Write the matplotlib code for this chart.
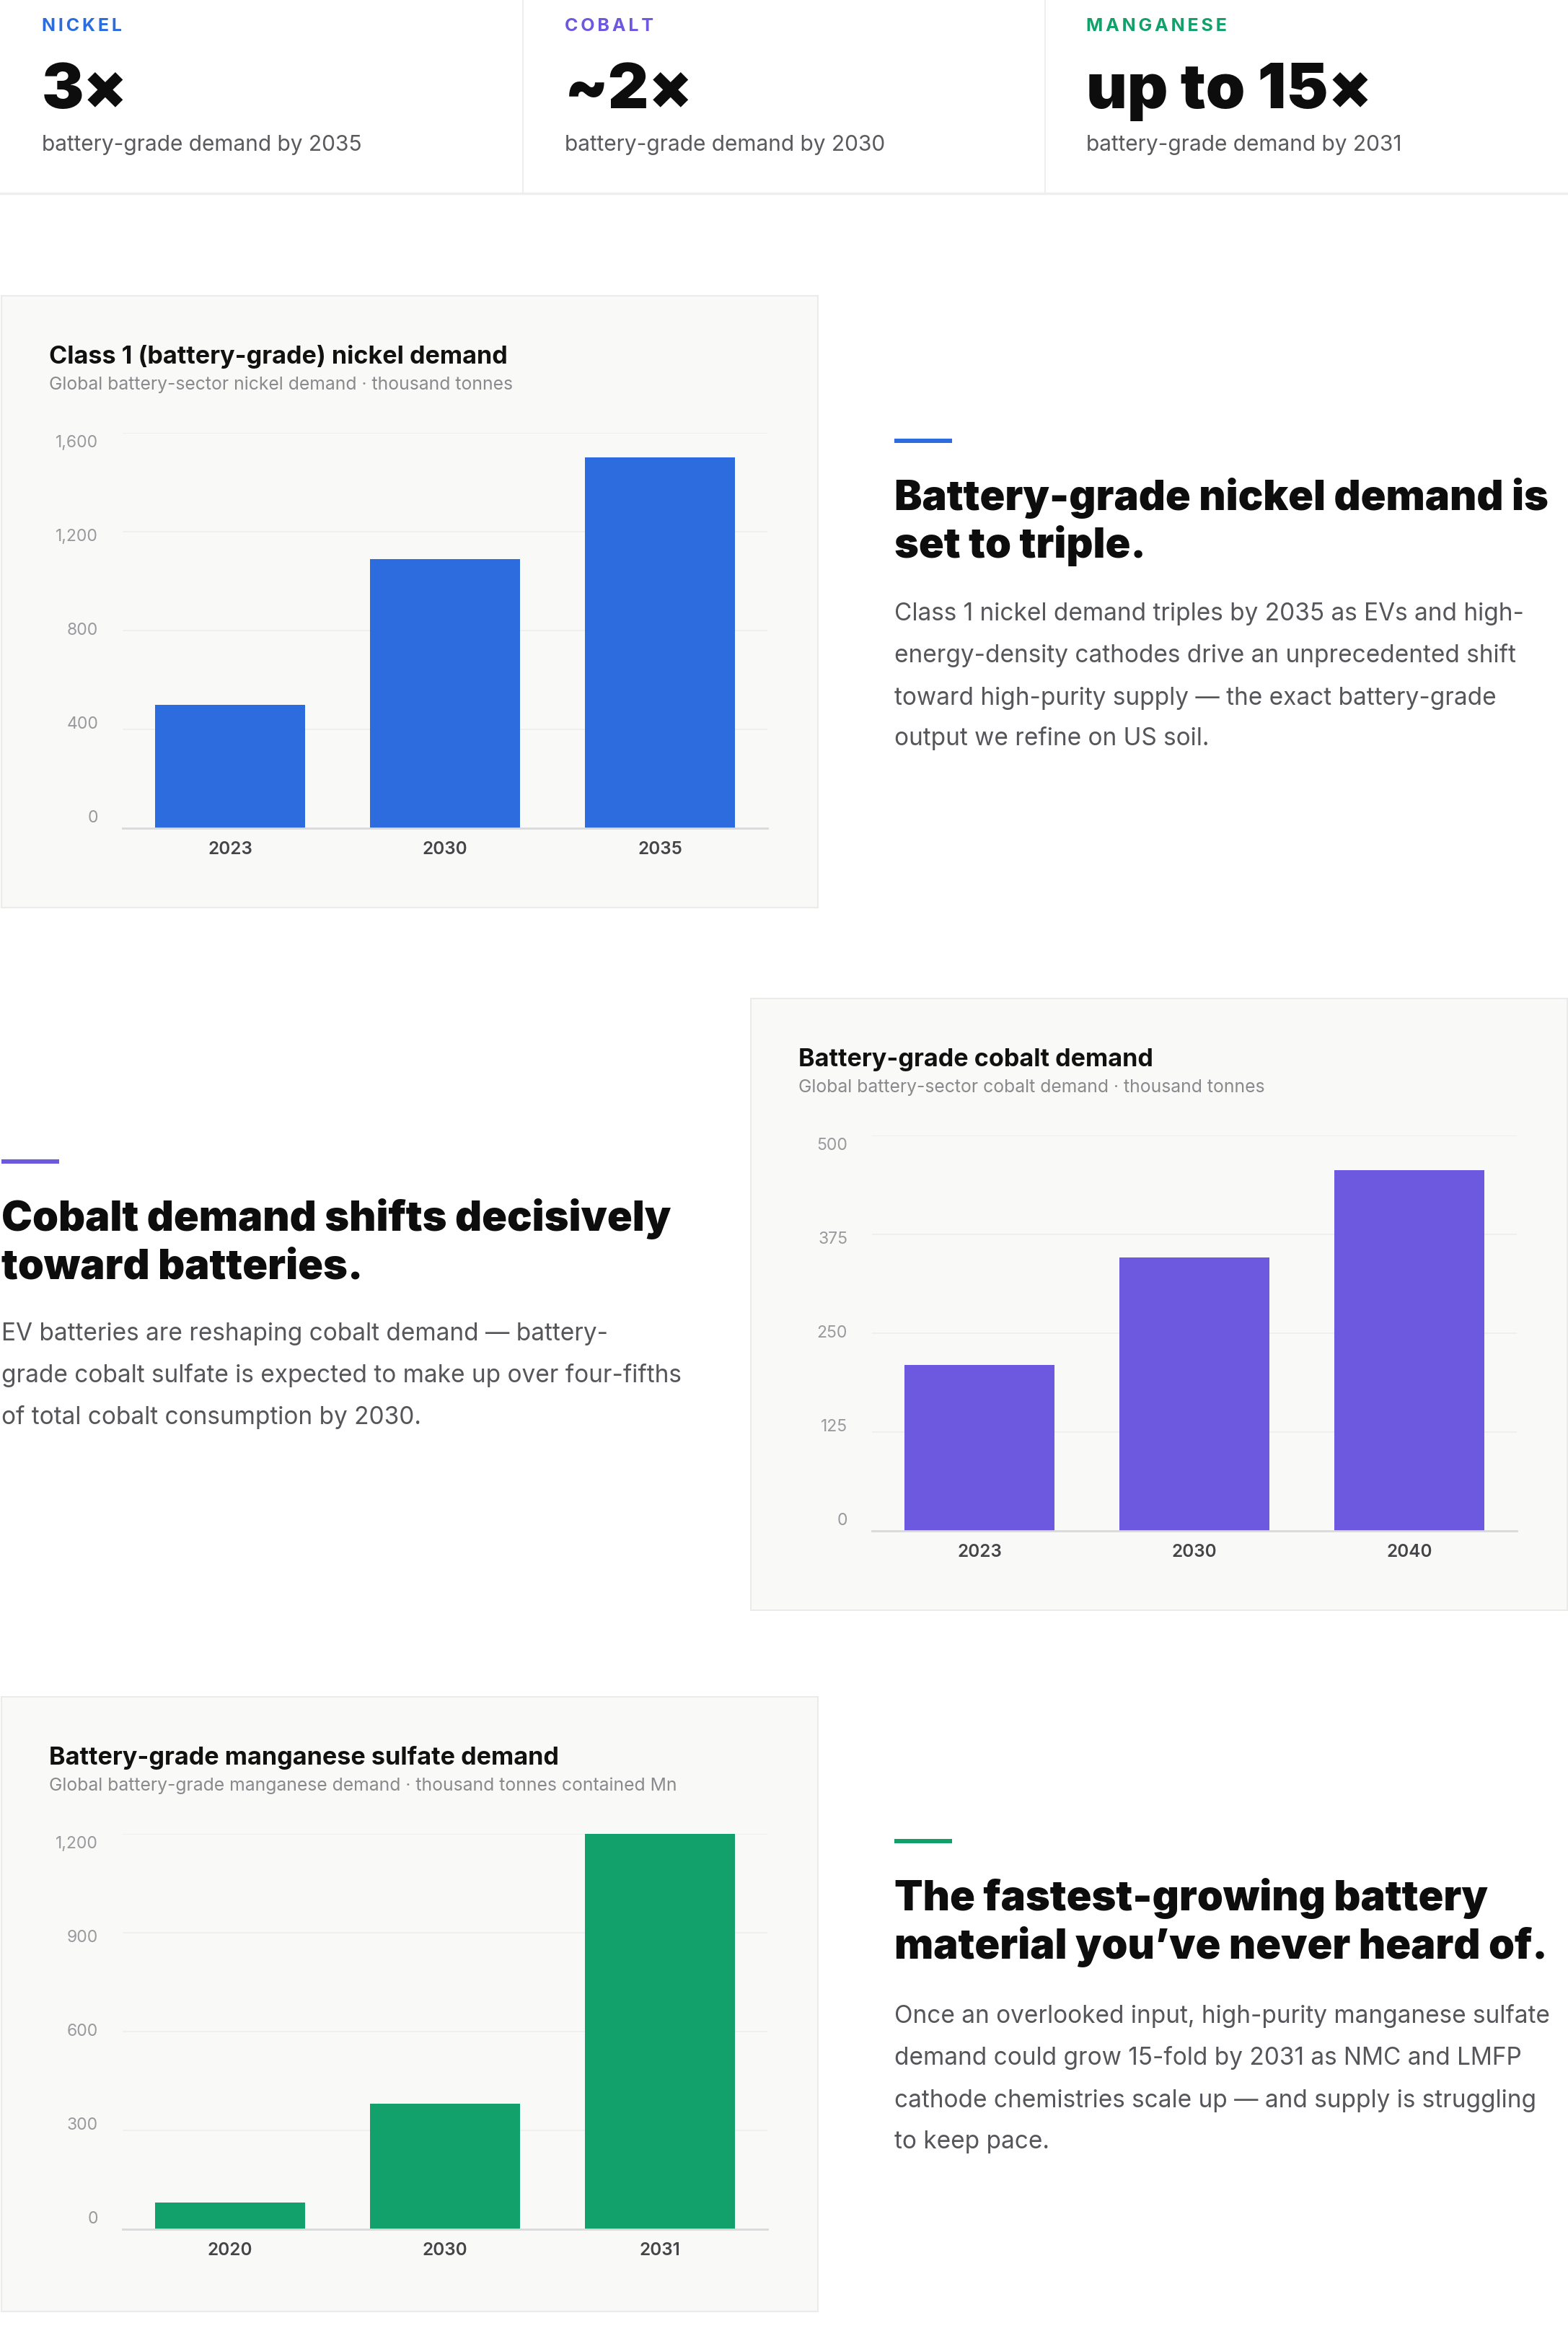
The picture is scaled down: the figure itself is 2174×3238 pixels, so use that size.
import matplotlib
matplotlib.use("Agg")
import matplotlib.pyplot as plt
from matplotlib.patches import Rectangle
from matplotlib.transforms import blended_transform_factory

plt.rcParams['font.family'] = ['Inter', 'DejaVu Sans']

# ---- data ----
stat_labels = ['NICKEL', 'COBALT', 'MANGANESE']
stat_values = ['3×', '~2×', 'up to 15×']
stat_notes = ['battery-grade demand by 2035', 'battery-grade demand by 2030',
              'battery-grade demand by 2031']

nickel_years = ['2023', '2030', '2035']
nickel_demand = [500, 1090, 1500]
nickel_ticks = [0, 400, 800, 1200, 1600]

cobalt_years = ['2023', '2030', '2040']
cobalt_demand = [210, 346, 456]
cobalt_ticks = [0, 125, 250, 375, 500]

manganese_years = ['2020', '2030', '2031']
manganese_demand = [80, 380, 1200]
manganese_ticks = [0, 300, 600, 900, 1200]

chart_titles = ['Class 1 (battery-grade) nickel demand',
                'Battery-grade cobalt demand',
                'Battery-grade manganese sulfate demand']
chart_subtitles = ['Global battery-sector nickel demand · thousand tonnes',
                   'Global battery-sector cobalt demand · thousand tonnes',
                   'Global battery-grade manganese demand · thousand tonnes contained Mn']

headings = [['Battery-grade nickel demand is', 'set to triple.'],
            ['Cobalt demand shifts decisively', 'toward batteries.'],
            ['The fastest-growing battery', 'material you’ve never heard of.']]
bodies = [['Class 1 nickel demand triples by 2035 as EVs and high-',
           'energy-density cathodes drive an unprecedented shift',
           'toward high-purity supply — the exact battery-grade',
           'output we refine on US soil.'],
          ['EV batteries are reshaping cobalt demand — battery-',
           'grade cobalt sulfate is expected to make up over four-fifths',
           'of total cobalt consumption by 2030.'],
          ['Once an overlooked input, high-purity manganese sulfate',
           'demand could grow 15-fold by 2031 as NMC and LMFP',
           'cathode chemistries scale up — and supply is struggling',
           'to keep pace.']]

colors = ['#2D6CDF', '#6D58E0', '#12A06B']

# ---- canvas ----
W, H = 2174, 3238
fig = plt.figure(figsize=(W / 100, H / 100), dpi=100, facecolor='white')
bg = fig.add_axes([0, 0, 1, 1])
bg.set_xlim(0, W)
bg.set_ylim(H, 0)
bg.axis('off')

# top stat strip
for x in (725, 1449):
    bg.plot([x, x], [0, 266], color='#EEEEEE', lw=1.5)
bg.plot([0, W], [268, 268], color='#EEEEEE', lw=2.5)
for i, x in enumerate((58, 783, 1506)):
    bg.text(x, 43, '\u2009'.join(stat_labels[i]), color=colors[i], fontsize=18,
            fontweight='bold', va='baseline')
    bg.text(x, 150, stat_values[i], color='#0D0D0D', fontsize=63,
            fontweight='black', va='baseline')
    bg.text(x, 209, stat_notes[i], color='#5A5A5E', fontsize=21.5, va='baseline')

# panels: (left, top, width, height)
panels = [(2, 410, 1132, 848), (1041, 1384, 1132, 848), (2, 2352, 1132, 852)]
series = [(nickel_years, nickel_demand, nickel_ticks),
          (cobalt_years, cobalt_demand, cobalt_ticks),
          (manganese_years, manganese_demand, manganese_ticks)]

for i, (L, T, PW, PH) in enumerate(panels):
    bg.add_patch(Rectangle((L, T), PW, PH, facecolor='#F9F9F8',
                           edgecolor='#EBEBEB', lw=1.5))
    bg.text(L + 66, T + 94, chart_titles[i], color='#111111', fontsize=24.6,
            fontweight='bold', va='baseline')
    bg.text(L + 66, T + 130, chart_subtitles[i], color='#8A8A8E', fontsize=17.8,
            va='baseline')

    years, vals, ticks = series[i]
    ymax = ticks[-1]
    x0, x1 = L + 168, L + 1062
    y_top, y_base = T + 190, T + 738
    ax = fig.add_axes([x0 / W, 1 - y_base / H, (x1 - x0) / W, (y_base - y_top) / H])
    ax.set_facecolor('none')
    xs = list(range(len(years)))
    ax.bar(xs, vals, width=0.70, color=colors[i], zorder=3)
    ax.set_xlim(-0.5, len(years) - 0.5)
    ax.set_ylim(0, ymax)
    ax.set_yticks(ticks)
    ax.set_yticklabels([])
    ax.grid(axis='y', color='#EEEEEE', lw=1.2, zorder=0)
    ax.tick_params(length=0)
    for s in ('top', 'right', 'left'):
        ax.spines[s].set_visible(False)
    ax.spines['bottom'].set_color('#D9D9DE')
    ax.spines['bottom'].set_linewidth(2)
    ax.spines['bottom'].set_zorder(4)
    ax.set_xticks(xs)
    ax.set_xticklabels(years, fontsize=17.5, fontweight='semibold', color='#454549')
    ax.tick_params(axis='x', pad=13)
    # y labels sit slightly inside the grid range
    tr = blended_transform_factory(ax.transAxes, ax.transData)
    for t in ticks:
        ax.text(-0.038, ymax * 0.0255 + t * 0.949, f'{t:,}', transform=tr,
                ha='right', va='center', fontsize=16.5, color='#9A9A9E')

# side text blocks
blocks = [(1240, 611, [707, 773], [860, 918, 977, 1033]),
          (2, 1610, [1706, 1772], [1858, 1916, 1974]),
          (1240, 2552, [2648, 2715], [2804, 2862, 2921, 2978])]
for i, (x, acc, hys, bys) in enumerate(blocks):
    bg.add_patch(Rectangle((x, acc - 3), 80, 6, facecolor=colors[i], lw=0))
    for line, y in zip(headings[i], hys):
        bg.text(x, y, line, color='#0D0D0D', fontsize=41.4, fontweight='black',
                va='baseline')
    for line, y in zip(bodies[i], bys):
        bg.text(x, y, line, color='#55555A', fontsize=24, va='baseline')

fig.savefig('out.png', dpi=100, facecolor='white')
